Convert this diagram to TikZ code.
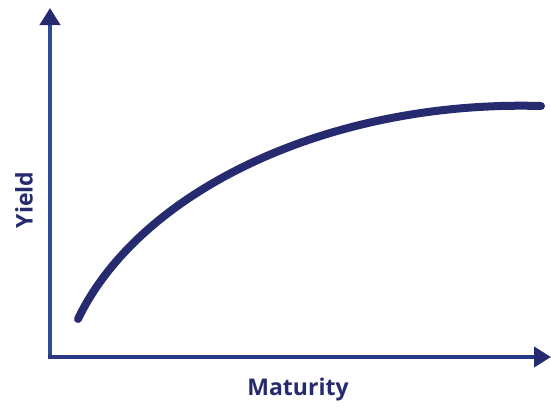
\documentclass[tikz,border=0pt]{standalone}
\usepackage{fontspec}
\setmainfont{Open Sans}
\usetikzlibrary{arrows.meta}
\definecolor{navy}{HTML}{262A6E}
\definecolor{axisy}{HTML}{2C4C98}
\definecolor{axisx}{HTML}{2A3886}
\tikzset{
  axisline/.style={line width=4pt, -{Triangle[length=17pt,width=20pt,color=navy]}},
  curveline/.style={line width=8pt, line cap=round, draw=navy},
  axislabel/.style={font=\fontsize{23}{27}\selectfont\bfseries, text=navy, inner sep=0pt}
}
\begin{document}
\begin{tikzpicture}[x=1pt,y=-1pt]
\useasboundingbox (0,0) rectangle (551,407);
\coordinate (o) at (50,357);
\coordinate (ytop) at (50,8);
\coordinate (xend) at (551,357);
\coordinate (xstart) at (48,357);
\draw[axisline, draw=axisy] (50,359) -- (ytop);
\draw[axisline, draw=axisx] (xstart) -- (xend);
\coordinate (c0) at (78,319);
\coordinate (c1) at (541,106);
\draw[curveline] (c0) .. controls (140,190) and (330,100) .. (c1);
\node[axislabel, rotate=90] (ylab) at (24,200) {Yield};
\node[axislabel] (xlab) at (298,390) {Maturity};
\end{tikzpicture}
\end{document}
